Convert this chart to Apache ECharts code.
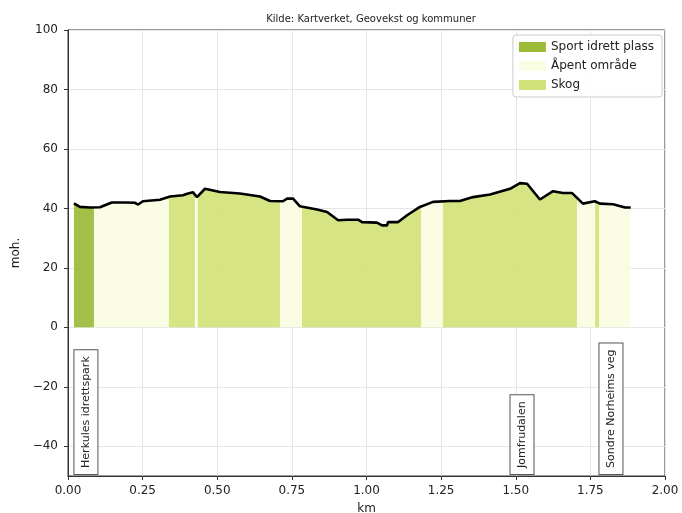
<!DOCTYPE html>
<html>
<head>
<meta charset="utf-8">
<script src="https://cdn.jsdelivr.net/npm/echarts@6/dist/echarts.min.js"></script>
<style>html,body{margin:0;padding:0;background:#fff}#c{width:682px;height:513px}</style>
</head>
<body>
<div id="c"></div>
<script>
// Elevation profile (km, m.o.h.)
const profileKm = [0.020,0.040,0.074,0.107,0.134,0.147,0.191,0.224,0.235,0.251,0.308,0.342,0.385,0.402,0.419,0.432,0.459,0.509,0.576,0.643,0.677,0.720,0.734,0.754,0.777,0.834,0.868,0.905,0.935,0.972,0.985,1.035,1.052,1.069,1.072,1.106,1.136,1.179,1.223,1.280,1.313,1.357,1.414,1.481,1.514,1.538,1.581,1.625,1.658,1.688,1.725,1.765,1.782,1.826,1.866,1.885];
const profileElev = [41.7,40.5,40.3,40.4,41.5,42.0,42.0,41.9,41.3,42.4,42.9,44.0,44.4,45.0,45.4,43.8,46.6,45.5,45.0,44.0,42.5,42.4,43.3,43.3,40.7,39.6,38.8,36.0,36.2,36.2,35.4,35.2,34.3,34.3,35.4,35.4,37.7,40.5,42.2,42.5,42.5,43.8,44.7,46.6,48.5,48.3,43.0,45.8,45.2,45.2,41.6,42.4,41.6,41.4,40.3,40.3];

// Land-use segments [startKm, endKm]
const sportSegments = [[0.020,0.087]];
const openSegments = [[0.087,0.338],[0.425,0.435],[0.710,0.784],[1.183,1.256],[1.705,1.766],[1.779,1.885]];
const forestSegments = [[0.338,0.425],[0.435,0.710],[0.784,1.183],[1.256,1.705],[1.766,1.779]];

const landUseNames = ['Sport idrett plass','Åpent område','Skog'];

// Place labels
const placeNames = ['Herkules idrettspark','Jomfrudalen','Sondre Norheims veg'];
const placeKm = [0.060,1.521,1.819];

const yTicks = [-40,-20,0,20,40,60,80,100];

function elevAt(x){
  if (x <= profileKm[0]) return profileElev[0];
  for (let i=1;i<profileKm.length;i++){
    if (x <= profileKm[i]){
      const t=(x-profileKm[i-1])/(profileKm[i]-profileKm[i-1]);
      return profileElev[i-1]+t*(profileElev[i]-profileElev[i-1]);
    }
  }
  return profileElev[profileElev.length-1];
}

function areaSeries(name, segs, color){
  return {
    name, type:'custom', data: segs,
    encode:{x:[0,1]},
    itemStyle:{color},
    z:2,
    renderItem(params, api){
      const s=api.value(0), e=api.value(1);
      const pts=[api.coord([s,0]), api.coord([s,elevAt(s)])];
      for (let i=0;i<profileKm.length;i++){
        if (profileKm[i]>s && profileKm[i]<e) pts.push(api.coord([profileKm[i],profileElev[i]]));
      }
      pts.push(api.coord([e,elevAt(e)]));
      pts.push(api.coord([e,0]));
      return {type:'polygon', shape:{points:pts}, style:{fill:color, opacity:0.92}};
    }
  };
}

const chart = echarts.init(document.getElementById('c'));
chart.setOption({
  animation:false,
  backgroundColor:'#fff',
  title:{text:'Kilde: Kartverket, Geovekst og kommuner', left:366, textAlign:'center', top:9,
    textStyle:{fontSize:10, fontWeight:'normal', color:'#222', fontFamily:'DejaVu Sans'}},
  grid:{left:68, right:17, top:30, bottom:37, show:true, borderColor:'#333', borderWidth:1, backgroundColor:'transparent',
    containLabel:false, outerBoundsMode:'none'},
  legend:{
    data:landUseNames, orient:'vertical', right:20, top:35,
    icon:'rect', itemWidth:27, itemHeight:10, itemGap:7,
    backgroundColor:'rgba(255,255,255,0.85)', borderColor:'#ccc', borderWidth:1, borderRadius:3,
    padding:[6,8,6,6],
    textStyle:{fontSize:12, color:'#222', fontFamily:'DejaVu Sans'}
  },
  xAxis:{
    type:'value', min:0, max:2, interval:0.25,
    name:'km', nameLocation:'middle', nameGap:27,
    nameTextStyle:{fontSize:12, color:'#222', fontFamily:'DejaVu Sans'},
    axisLine:{show:true, onZero:false, lineStyle:{color:'#333'}},
    axisTick:{show:true, length:4, lineStyle:{color:'#333'}},
    axisLabel:{fontSize:12, color:'#222', margin:9, fontFamily:'DejaVu Sans', formatter:v=>v.toFixed(2)},
    splitLine:{show:true, lineStyle:{color:'#e6e6e6'}}
  },
  yAxis:{
    type:'value', min:-50, max:100, interval:20,
    name:'moh.', nameLocation:'middle', nameGap:45,
    nameTextStyle:{fontSize:12, color:'#222', fontFamily:'DejaVu Sans'},
    axisLine:{show:true, onZero:false, lineStyle:{color:'#333'}},
    axisTick:{show:true, length:4, lineStyle:{color:'#333'}, customValues:yTicks},
    axisLabel:{fontSize:12, color:'#222', margin:10, fontFamily:'DejaVu Sans', customValues:yTicks,
      formatter:v=> v<0 ? '\u2212'+Math.abs(v) : String(v)},
    splitLine:{show:true, lineStyle:{color:'#e6e6e6'}}
  },
  series:[
    areaSeries(landUseNames[0], sportSegments, '#9dbb38'),
    areaSeries(landUseNames[1], openSegments, '#fafde2'),
    areaSeries(landUseNames[2], forestSegments, '#d2e27a'),
    {
      name:'profil', type:'line', data: profileKm.map((k,i)=>[k,profileElev[i]]),
      showSymbol:false, symbol:'none', z:5,
      lineStyle:{color:'#000', width:2.6}
    },
    {
      name:'steder', type:'custom', z:6,
      data: placeKm.map((k,i)=>[k,-49.3,placeNames[i]]),
      encode:{x:0,y:1},
      renderItem(params, api){
        const p=api.coord([api.value(0), api.value(1)]);
        return {type:'text', x:p[0], y:p[1], rotation:Math.PI/2,
          style:{text:placeNames[params.dataIndex], fontSize:11, fill:'#222', fontFamily:'DejaVu Sans',
            align:'left', verticalAlign:'middle', backgroundColor:'#fff', borderColor:'#555', borderWidth:1,
            padding:[6,6,6,6]}};
      }
    }
  ]
});
</script>
</body>
</html>
